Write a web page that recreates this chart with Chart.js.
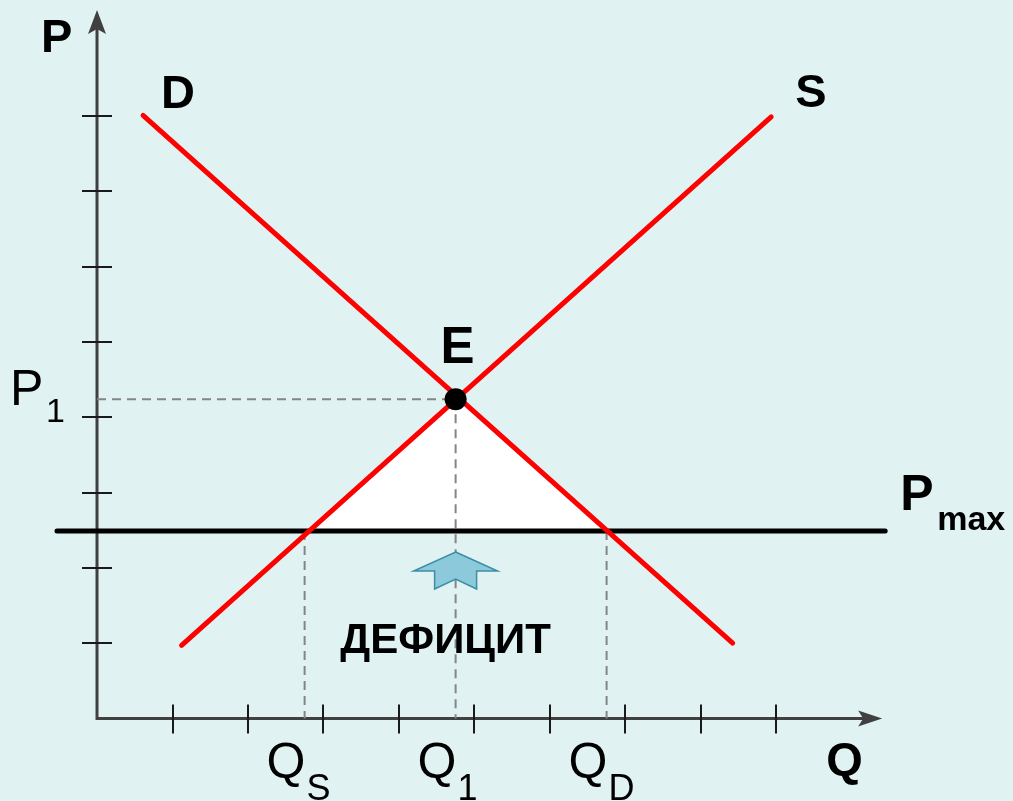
<!DOCTYPE html>
<html lang="ru">
<head>
    <meta charset="UTF-8">
    <title>Дефицит при P max</title>
    <style>
        html, body {
            margin: 0;
            padding: 0;
            overflow: hidden;
            background-color: #e0f2f2;
        }
        .chart-container {
            position: relative;
            width: 1013px;
            height: 801px;
        }
    </style>
</head>
<body>
    <div class="chart-container">
        <canvas id="chart"></canvas>
    </div>

    <script src="https://cdn.jsdelivr.net/npm/chart.js"></script>

    <script>
      // demand and supply curves (quantity, price)
      const demandQ = [0.61, 8.42];
      const demandP = [8.01, 1.00];
      const supplyQ = [1.12, 8.93];
      const supplyP = [0.97, 7.99];

      // equilibrium point E
      const equilibrium = [4.75, 4.24];

      // price ceiling Pmax and how far the line runs
      const priceMax = 2.49;
      const priceMaxQ = [-0.53, 10.44];

      // quantities at the ceiling
      const qSupplied = 2.75;
      const qDemanded = 6.75;

      // axis ticks and axis ends
      const xTicks = [1, 2, 3, 4, 5, 6, 7, 8, 9];
      const yTicks = [1, 2, 3, 4, 5, 6, 7, 8];
      const axisEnd = [10.4, 9.41];

      // texts
      const curveLabels = ['D', 'S', 'E'];
      const axisLabels = ['P', 'Q'];
      const qLabels = [['Q', 'S'], ['Q', '1'], ['Q', 'D']];
      const pLabel = ['P', '1'];
      const ceilingLabel = ['P', 'max'];
      const shortageLabel = 'ДЕФИЦИТ';

      const pts = (xs, ys) => xs.map((x, i) => ({ x: x, y: ys[i] }));
      const dashed = {
          showLine: true,
          borderColor: '#858585',
          borderWidth: 2,
          borderDash: [9, 6],
          pointRadius: 0,
          fill: false
      };

      const datasets = [
          {
              label: 'E',
              data: [{ x: equilibrium[0], y: equilibrium[1] }],
              pointRadius: 11,
              pointBackgroundColor: '#000',
              pointBorderWidth: 0
          },
          {
              label: 'D',
              data: pts(demandQ, demandP),
              showLine: true,
              borderColor: '#ff0000',
              borderWidth: 5,
              borderCapStyle: 'round',
              pointRadius: 0
          },
          {
              label: 'S',
              data: pts(supplyQ, supplyP),
              showLine: true,
              borderColor: '#ff0000',
              borderWidth: 5,
              borderCapStyle: 'round',
              pointRadius: 0
          },
          {
              label: 'Pmax',
              data: pts(priceMaxQ, [priceMax, priceMax]),
              showLine: true,
              borderColor: '#000',
              borderWidth: 5,
              borderCapStyle: 'round',
              pointRadius: 0
          },
          Object.assign({ label: 'P1', data: pts([0, equilibrium[0]], [equilibrium[1], equilibrium[1]]) }, dashed),
          Object.assign({ label: 'Q1', data: pts([equilibrium[0], equilibrium[0]], [equilibrium[1], 0]) }, dashed),
          Object.assign({ label: 'QS', data: pts([qSupplied, qSupplied], [priceMax, 0]) }, dashed),
          Object.assign({ label: 'QD', data: pts([qDemanded, qDemanded], [priceMax, 0]) }, dashed),
          {
              label: 'shortage',
              data: pts([qSupplied, equilibrium[0], qDemanded], [priceMax, equilibrium[1], priceMax]),
              showLine: true,
              borderWidth: 0,
              borderColor: 'rgba(0,0,0,0)',
              backgroundColor: '#ffffff',
              pointRadius: 0,
              fill: { value: priceMax }
          }
      ];

      // axes, ticks, arrow and texts
      const economicsPlugin = {
          id: 'economics',
          beforeDatasetsDraw(chart) {
              const ctx = chart.ctx;
              const sx = chart.scales.x, sy = chart.scales.y;
              const ox = sx.getPixelForValue(0), oy = sy.getPixelForValue(0);
              const ex = sx.getPixelForValue(axisEnd[0]), ey = sy.getPixelForValue(axisEnd[1]);

              ctx.save();
              ctx.strokeStyle = '#404040';
              ctx.fillStyle = '#404040';
              ctx.lineWidth = 3;
              ctx.beginPath();
              ctx.moveTo(ox, oy);
              ctx.lineTo(ox, ey + 14);
              ctx.moveTo(ox - 1.5, oy);
              ctx.lineTo(ex - 14, oy);
              ctx.stroke();

              // arrow heads
              ctx.beginPath();
              ctx.moveTo(ox, ey);
              ctx.lineTo(ox + 9, ey + 24);
              ctx.lineTo(ox, ey + 19);
              ctx.lineTo(ox - 9, ey + 24);
              ctx.closePath();
              ctx.fill();
              ctx.beginPath();
              ctx.moveTo(ex, oy);
              ctx.lineTo(ex - 24, oy - 8);
              ctx.lineTo(ex - 19, oy);
              ctx.lineTo(ex - 24, oy + 8);
              ctx.closePath();
              ctx.fill();

              // ticks
              ctx.strokeStyle = '#1a1a1a';
              ctx.lineWidth = 2;
              ctx.beginPath();
              xTicks.forEach(v => {
                  const x = Math.round(sx.getPixelForValue(v));
                  ctx.moveTo(x, oy - 14);
                  ctx.lineTo(x, oy + 15);
              });
              yTicks.forEach(v => {
                  const y = Math.round(sy.getPixelForValue(v));
                  ctx.moveTo(ox - 15, y);
                  ctx.lineTo(ox + 15, y);
              });
              ctx.stroke();
              ctx.restore();
          },
          afterDatasetsDraw(chart) {
              const ctx = chart.ctx;
              const sx = chart.scales.x, sy = chart.scales.y;
              const px = v => sx.getPixelForValue(v);
              const py = v => sy.getPixelForValue(v);
              const ox = px(0), oy = py(0);

              ctx.save();

              // up arrow under the ceiling
              const cx = px(equilibrium[0]);
              const top = py(priceMax) + 21;
              ctx.beginPath();
              ctx.moveTo(cx, top);
              ctx.lineTo(cx + 42, top + 19);
              ctx.lineTo(cx + 21, top + 19);
              ctx.lineTo(cx + 21, top + 37);
              ctx.lineTo(cx, top + 27);
              ctx.lineTo(cx - 21, top + 37);
              ctx.lineTo(cx - 21, top + 19);
              ctx.lineTo(cx - 42, top + 19);
              ctx.closePath();
              ctx.fillStyle = '#8ccadb';
              ctx.fill();
              ctx.strokeStyle = '#3a8ea6';
              ctx.lineWidth = 1.5;
              ctx.stroke();

              ctx.fillStyle = '#000';
              ctx.textAlign = 'left';
              ctx.textBaseline = 'alphabetic';
              const bold = s => 'bold ' + s + 'px "Liberation Sans", Arial, sans-serif';
              const reg = s => s + 'px "Liberation Sans", Arial, sans-serif';

              ctx.font = bold(47);
              ctx.fillText(axisLabels[0], ox - 56, 52);
              ctx.fillText(axisLabels[1], px(axisEnd[0]) - 56, oy + 57);
              ctx.fillText(curveLabels[0], px(demandQ[0]) + 18, py(demandP[0]) - 7);
              ctx.fillText(curveLabels[1], px(supplyQ[1]) + 24, py(supplyP[1]) - 10);
              ctx.font = bold(51);
              ctx.fillText(curveLabels[2], px(equilibrium[0]) - 15, py(equilibrium[1]) - 36);

              // Pmax label
              const pe = px(priceMaxQ[1]), pp = py(priceMax);
              ctx.font = bold(50);
              ctx.fillText(ceilingLabel[0], pe + 15, pp - 21);
              ctx.font = bold(34);
              ctx.fillText(ceilingLabel[1], pe + 52, pp - 1);

              // P1 label
              ctx.font = reg(50);
              ctx.fillText(pLabel[0], ox - 87, py(equilibrium[1]) + 6);
              ctx.font = reg(34);
              ctx.fillText(pLabel[1], ox - 51, py(equilibrium[1]) + 23);

              // Q labels
              [qSupplied, equilibrium[0], qDemanded].forEach((q, i) => {
                  const x = px(q);
                  ctx.font = reg(50);
                  ctx.fillText(qLabels[i][0], x - 38, oy + 60);
                  ctx.font = reg(36);
                  ctx.fillText(qLabels[i][1], x + 2, oy + 82);
              });

              ctx.font = bold(42);
              ctx.textAlign = 'center';
              ctx.fillText(shortageLabel, px(equilibrium[0]) - 10, py(priceMax) + 122);
              ctx.restore();
          }
      };

      new Chart(document.getElementById('chart').getContext('2d'), {
          type: 'scatter',
          data: { datasets: datasets },
          options: {
              responsive: true,
              maintainAspectRatio: false,
              animation: false,
              events: [],
              layout: { padding: 0, autoPadding: false },
              plugins: {
                  legend: { display: false },
                  tooltip: { enabled: false }
              },
              scales: {
                  x: { type: 'linear', display: false, min: -1.285, max: 12.133 },
                  y: { type: 'linear', display: false, min: -1.096, max: 9.542 }
              }
          },
          plugins: [economicsPlugin]
      });
    </script>
</body>
</html>
